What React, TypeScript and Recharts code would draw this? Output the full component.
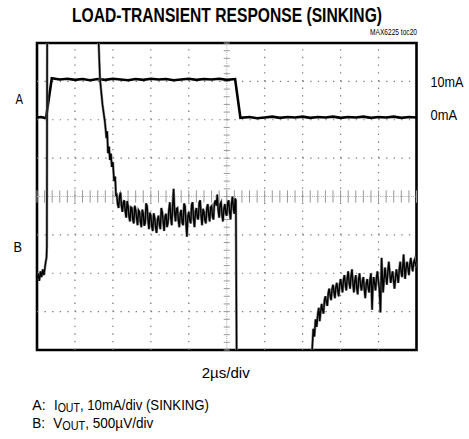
import React from "react";
import { LineChart, Line, XAxis, YAxis, ReferenceLine, ReferenceArea } from "recharts";

// Trace A: output current (mA) vs time (µs)
const traceA: [number, number][] = [
  [0, 0.6], [0.2, 0.7], [0.4, 0.5], [0.48, 0.6], [0.78, 10.8], [1.2, 10.5], [1.6, 10.7], [2.0, 10.4],
  [2.4, 10.6], [2.8, 10.3], [3.2, 10.6], [3.6, 10.4], [4.0, 10.7], [4.4, 10.5], [4.8, 10.3], [5.2, 10.6],
  [5.6, 10.4], [6.0, 10.7], [6.4, 10.5], [6.8, 10.6], [7.2, 10.3], [7.6, 10.5], [8.0, 10.7], [8.4, 10.4],
  [8.8, 10.6], [9.2, 10.5], [9.6, 10.7], [10.0, 10.4], [10.44, 10.6], [10.72, 0.5], [11.2, 0.7], [11.6, 0.4],
  [12.0, 0.6], [12.4, 0.8], [12.8, 0.5], [13.2, 0.7], [13.6, 0.6], [14.0, 0.8], [14.4, 0.5], [14.8, 0.7],
  [15.2, 0.6], [15.6, 0.8], [16.0, 0.5], [16.4, 0.7], [16.8, 0.6], [17.2, 0.8], [17.6, 0.5], [18.0, 0.7],
  [18.4, 0.6], [18.8, 0.8], [19.2, 0.5], [19.6, 0.7], [20, 0.6],
];

// Trace B: output voltage deviation (µV) vs time (µs)
const traceB: [number, number][] = [
  [0, -1075], [0.06, -1000], [0.12, -1100], [0.18, -975], [0.24, -1050], [0.3, -950], [0.36, -1025],
  [0.42, -925], [0.46, -850], [0.5, -800], [0.52, -650], [0.54, 2750], [3.22, 2750], [3.25, 2000],
  [3.32, 1530], [3.45, 1200], [3.58, 970], [3.66, 760], [3.7, 850], [3.74, 565], [3.8, 650], [3.84, 475],
  [3.9, 560], [3.94, 385], [4.0, 450], [4.06, 200], [4.12, 260], [4.16, 20],
  [4.2, 25], [4.25, -100], [4.3, -150], [4.35, 0], [4.4, 50], [4.45, -120], [4.5, -200], [4.55, -80],
  [4.6, -50], [4.65, -190], [4.7, -275], [4.75, -60], [4.8, -125], [4.85, -260], [4.9, -325], [4.95, -140],
  [5.0, -150], [5.05, -300], [5.1, -350], [5.15, -120], [5.2, -175], [5.25, -280], [5.3, -375], [5.35, -180],
  [5.4, -200], [5.45, -330], [5.5, -400], [5.55, -170], [5.6, -225], [5.65, -380], [5.7, -350], [5.75, -90],
  [5.8, -125], [5.85, -300], [5.9, -425], [5.95, -210], [6.0, -250], [6.05, -390], [6.1, -450], [6.15, -220],
  [6.2, -275], [6.25, -400], [6.3, -475], [6.35, -300], [6.4, -250], [6.45, -360], [6.5, -425], [6.55, -150],
  [6.6, -200], [6.65, -330], [6.7, -450], [6.75, -260], [6.8, -225], [6.85, -400], [6.9, -350], [6.95, -180],
  [7.0, -75], [7.05, -280], [7.1, -375], [7.15, -120], [7.2, 100], [7.25, -200], [7.3, -325], [7.35, -160],
  [7.4, -150], [7.45, -310], [7.5, -400], [7.55, -220], [7.6, -175], [7.65, -340], [7.7, -375], [7.75, -90],
  [7.8, -125], [7.85, -330], [7.9, -525], [7.95, -260], [8.0, -200], [8.05, -310], [8.1, -350], [8.15, -110],
  [8.2, -75], [8.25, -290], [8.3, -400], [8.35, -200], [8.4, -150], [8.45, -270], [8.5, -300], [8.55, -80],
  [8.6, -50], [8.65, -250], [8.7, -375], [8.75, -160], [8.8, -200], [8.85, -310], [8.9, -350], [8.95, -150],
  [9.0, -100], [9.05, -240], [9.1, -325], [9.15, -140], [9.2, -125], [9.25, -260], [9.3, -300], [9.35, -90],
  [9.4, -50], [9.45, -120], [9.5, 25], [9.55, -180], [9.6, -275], [9.65, -100], [9.7, -75], [9.75, -240],
  [9.8, -325], [9.85, -160], [9.9, -100], [9.95, -220], [10.0, -250], [10.05, -80], [10.1, -50], [10.15, -200],
  [10.2, -300], [10.25, -100], [10.3, 0], [10.35, -150], [10.4, -225], [10.44, -25],
  [10.48, -50], [10.53, -2500], [14.46, -2500], [14.5, -2000],
  [14.56, -1725], [14.62, -1825], [14.68, -1600], [14.74, -1700], [14.8, -1525], [14.85, -1450], [14.9, -1625],
  [14.95, -1500], [15.0, -1400], [15.05, -1480], [15.1, -1525], [15.15, -1350], [15.2, -1300], [15.25, -1380],
  [15.3, -1425], [15.35, -1260], [15.4, -1200], [15.45, -1290], [15.5, -1350], [15.55, -1210], [15.6, -1150],
  [15.65, -1240], [15.7, -1325], [15.75, -1180], [15.8, -1125], [15.85, -1220], [15.9, -1300], [15.95, -1150],
  [16.0, -1075], [16.05, -1160], [16.1, -1250], [16.15, -1090], [16.2, -1025], [16.25, -1140], [16.3, -1225],
  [16.35, -1060], [16.4, -975], [16.45, -1120], [16.5, -1200], [16.55, -1040], [16.6, -950], [16.65, -1130],
  [16.7, -1250], [16.75, -1100], [16.8, -1025], [16.85, -1190], [16.9, -1275], [16.95, -1080], [17.0, -1000],
  [17.05, -1150], [17.1, -1225], [17.15, -1110], [17.2, -1050], [17.25, -1200], [17.3, -1325], [17.35, -1140],
  [17.4, -1075], [17.45, -1180], [17.5, -1250], [17.55, -1090], [17.6, -1000], [17.66, -1475], [17.7, -1170],
  [17.74, -1050], [17.79, -1130], [17.84, -1225], [17.89, -1060], [17.94, -975], [17.99, -1100], [18.04, -1200],
  [18.1, -1510], [18.16, -800], [18.2, -1030], [18.24, -1250], [18.29, -1080], [18.34, -925], [18.39, -1050],
  [18.44, -1150], [18.49, -980], [18.54, -850], [18.59, -990], [18.64, -1125], [18.69, -1040], [18.74, -975],
  [18.79, -1090], [18.84, -1200], [18.89, -1070], [18.94, -950], [18.99, -1030], [19.04, -1125], [19.09, -960],
  [19.14, -850], [19.19, -980], [19.24, -1050], [19.28, -900], [19.32, -755], [19.36, -920], [19.4, -1075],
  [19.45, -940], [19.5, -850], [19.55, -930], [19.6, -1025], [19.65, -880], [19.7, -800], [19.75, -900],
  [19.8, -975], [19.85, -860], [19.9, -825], [19.95, -890], [20, -925],
];

// Grid (scope divisions): 2 µs/div horizontally, 500 µV/div vertically
const xGrid = [2, 4, 6, 8, 12, 14, 16, 18];
const yGrid = [-1500, -1000, -500, 500, 1000, 1500];

const dataA = traceA.map(([t, i]) => ({ t, i }));
const dataB = traceB.map(([t, v]) => ({ t, v }));

const vCenterTicks = Array.from({ length: 41 }, (_, k) => -2000 + k * 100);
const hCenterTicks = Array.from({ length: 51 }, (_, k) => k * 0.4);

const FONT = "'Liberation Sans', Arial, Helvetica, sans-serif";

export default function App() {
  return (
    <div style={{ position: "absolute", left: 0, top: 0, width: 469, height: 439, background: "#fff" }}>
      <div style={{ position: "absolute", left: 0, top: 0 }}>
        <LineChart width={469} height={439} margin={{ top: 43, right: 52.5, bottom: 89, left: 37 }}>
          <XAxis type="number" dataKey="t" domain={[0, 20]} hide allowDataOverflow />
          <YAxis yAxisId="a" type="number" domain={[-60, 20]} hide allowDataOverflow />
          <YAxis yAxisId="b" type="number" domain={[-2000, 2000]} hide allowDataOverflow />
          {xGrid.map((x) => (
            <ReferenceLine key={"gx" + x} yAxisId="b" x={x} stroke="#777" strokeWidth={1.2} strokeDasharray="1.3 6.38" />
          ))}
          {yGrid.map((y) => (
            <ReferenceLine key={"gy" + y} yAxisId="b" y={y} stroke="#777" strokeWidth={1.2} strokeDasharray="1.3 6.29" />
          ))}
          <ReferenceLine yAxisId="b" x={10} stroke="#aaa" strokeWidth={1} strokeDasharray="1 1.2" />
          <ReferenceLine yAxisId="b" y={0} stroke="#aaa" strokeWidth={1} strokeDasharray="1 1.2" />
          {vCenterTicks.map((y) => (
            <ReferenceLine key={"vt" + y} yAxisId="b" segment={[{ x: 9.84, y }, { x: 10.16, y }]} stroke="#999" strokeWidth={1} />
          ))}
          {hCenterTicks.map((x) => (
            <ReferenceLine key={"ht" + x} yAxisId="b" segment={[{ x, y: -80 }, { x, y: 80 }]} stroke="#999" strokeWidth={1} />
          ))}
          <Line yAxisId="a" data={dataA} dataKey="i" type="linear" stroke="#000" strokeWidth={2.6} dot={false} isAnimationActive={false} />
          <Line yAxisId="b" data={dataB} dataKey="v" type="linear" stroke="#888" strokeWidth={2.6} dot={false} isAnimationActive={false} />
          <Line yAxisId="b" data={dataB} dataKey="v" type="linear" stroke="#000" strokeWidth={1.4} dot={false} isAnimationActive={false} />
          <ReferenceArea yAxisId="b" x1={0} x2={20} y1={-2000} y2={2000} fill="none" fillOpacity={0} stroke="#000" strokeWidth={2.6} ifOverflow="visible" />
        </LineChart>
      </div>
      <svg width={469} height={439} style={{ position: "absolute", left: 0, top: 0, pointerEvents: "none" }} fontFamily={FONT} fill="#000">
        <text x={72} y={21.5} fontSize={20} fontWeight={700} textLength={310} lengthAdjust="spacingAndGlyphs">LOAD-TRANSIENT RESPONSE (SINKING)</text>
        <text x={370} y={34.5} fontSize={9} textLength={47} lengthAdjust="spacingAndGlyphs">MAX6225 toc20</text>
        <text x={430.5} y={86.7} fontSize={15} textLength={33} lengthAdjust="spacingAndGlyphs">10mA</text>
        <text x={430.5} y={120} fontSize={15} textLength={26.5} lengthAdjust="spacingAndGlyphs">0mA</text>
        <text x={15.5} y={104} fontSize={15} textLength={7.5} lengthAdjust="spacingAndGlyphs">A</text>
        <text x={13.5} y={251.5} fontSize={15} textLength={8.5} lengthAdjust="spacingAndGlyphs">B</text>
        <text x={201.7} y={378.3} fontSize={14.5} textLength={48} lengthAdjust="spacingAndGlyphs">2µs/div</text>
        <text x={32.3} y={410} fontSize={15} textLength={13.4} lengthAdjust="spacingAndGlyphs">A:</text>
        <text x={54} y={410} fontSize={15} textLength={155} lengthAdjust="spacingAndGlyphs">
          I<tspan fontSize={12} dy={1.7}>OUT</tspan><tspan dy={-1.7}>, 10mA/div (SINKING)</tspan>
        </text>
        <text x={32.3} y={428.3} fontSize={15} textLength={12.8} lengthAdjust="spacingAndGlyphs">B:</text>
        <text x={53.3} y={428.3} fontSize={15} textLength={100} lengthAdjust="spacingAndGlyphs">
          V<tspan fontSize={12} dy={1.7}>OUT</tspan><tspan dy={-1.7}>, 500µV/div</tspan>
        </text>
      </svg>
    </div>
  );
}
